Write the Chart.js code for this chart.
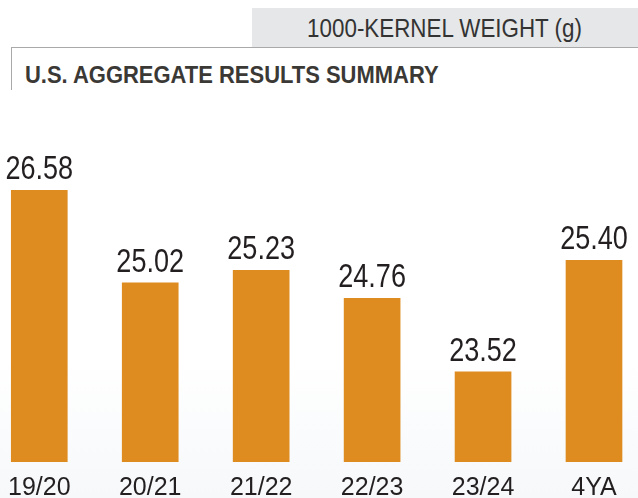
<!DOCTYPE html>
<html>
<head>
<meta charset="utf-8">
<script src="https://cdn.jsdelivr.net/npm/chart.js@4"></script>
<style>
  html, body { margin:0; padding:0; }
  body { width:638px; height:498px; position:relative; overflow:hidden;
         background: linear-gradient(to bottom, #ffffff 0px, #ffffff 360px, #f6f8fa 498px);
         font-family: "Liberation Sans", Arial, sans-serif; }
  #hdrbox { position:absolute; left:252px; top:8px; width:386px; height:39px; background:#e6e7e8; }
  #hline { position:absolute; left:11px; top:47px; width:627px; height:0; border-top:1.5px solid #a9a9a9; }
  #vline { position:absolute; left:11px; top:47px; width:0; height:43px; border-left:1.5px solid #a9a9a9; }
  #metric { position:absolute; left:252px; width:386px; top:15.8px; text-align:center;
            font-size:25px; line-height:25px; color:#333333; white-space:nowrap; }
  #metric span { display:inline-block; transform:scaleX(0.895); transform-origin:center; }
  #title { position:absolute; left:25px; top:62.7px; font-size:24px; line-height:24px; font-weight:bold;
           color:#3b3935; white-space:nowrap; transform:scaleX(0.915); transform-origin:left; }
  #wrap { position:absolute; left:0; top:0; width:638px; height:498px; }
</style>
</head>
<body>
<div id="hdrbox"></div>
<div id="hline"></div>
<div id="vline"></div>
<div id="metric"><span>1000-KERNEL WEIGHT (g)</span></div>
<div id="title">U.S. AGGREGATE RESULTS SUMMARY</div>
<div id="wrap"><canvas id="c" width="638" height="498"></canvas></div>
<script>
const categories = ["19/20", "20/21", "21/22", "22/23", "23/24", "4YA"];
const weights = [26.58, 25.02, 25.23, 24.76, 23.52, 25.40];
const valueLabels = ["26.58", "25.02", "25.23", "24.76", "23.52", "25.40"];

const barValueLabels = {
  id: 'barValueLabels',
  afterDatasetsDraw(chart) {
    const ctx = chart.ctx;
    const meta = chart.getDatasetMeta(0);
    ctx.save();
    ctx.fillStyle = '#231f20';
    ctx.font = '33px "Liberation Sans", Arial, sans-serif';
    ctx.textAlign = 'center';
    ctx.textBaseline = 'alphabetic';
    meta.data.forEach((bar, i) => {
      ctx.save();
      ctx.translate(bar.x, bar.y - 11);
      ctx.scale(0.82, 1);
      ctx.fillText(valueLabels[i], 0, 0);
      ctx.restore();
    });
    ctx.restore();
  }
};

new Chart(document.getElementById('c'), {
  type: 'bar',
  data: {
    labels: categories,
    datasets: [{
      data: weights,
      backgroundColor: '#de8c20',
      borderWidth: 0,
      barThickness: 56,
      clip: { left: false, right: false, top: false, bottom: 0 }
    }]
  },
  options: {
    responsive: false,
    animation: false,
    layout: { padding: { top: 106, left: 39, right: 44, bottom: -16 } },
    plugins: { legend: { display: false }, tooltip: { enabled: false } },
    scales: {
      x: {
        offset: false,
        grid: { display: false, drawTicks: false },
        border: { display: false },
        ticks: {
          color: '#231f20',
          padding: 8,
          maxRotation: 0,
          autoSkip: false,
          font: { family: '"Liberation Sans", Arial, sans-serif', size: 25, lineHeight: 1.44 }
        }
      },
      y: {
        display: false,
        min: 22,
        max: 28
      }
    }
  },
  plugins: [barValueLabels]
});
</script>
</body>
</html>
